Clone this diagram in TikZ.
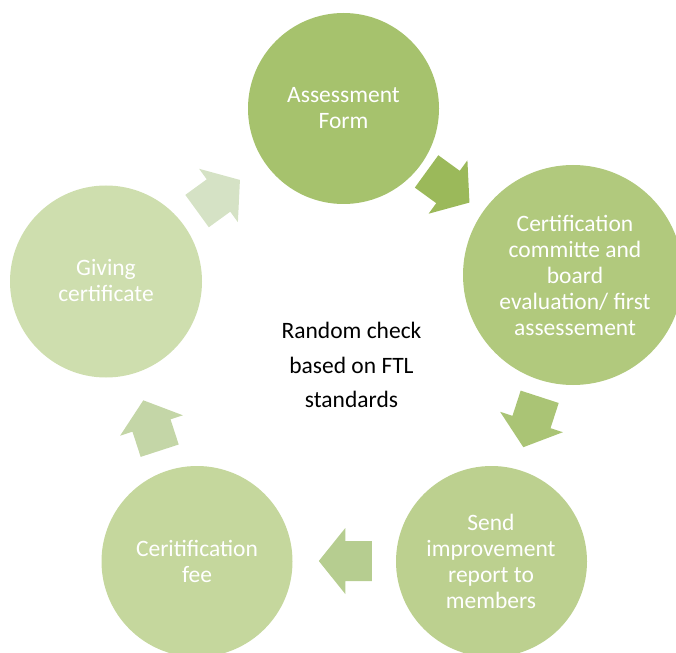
\documentclass[tikz,border=0pt]{standalone}
\usepackage{fontspec}
\setmainfont{Carlito}
\definecolor{cTop}{RGB}{166,194,109}
\definecolor{cRight}{RGB}{177,201,125}
\definecolor{cBR}{RGB}{188,208,143}
\definecolor{cBL}{RGB}{197,215,157}
\definecolor{cLeft}{RGB}{206,222,174}
\definecolor{aOne}{RGB}{155,185,90}
\definecolor{aTwo}{RGB}{170,196,117}
\definecolor{aThree}{RGB}{182,205,144}
\definecolor{aFour}{RGB}{196,214,167}
\definecolor{aFive}{RGB}{213,226,197}
\begin{document}
\begin{tikzpicture}[x=1pt,y=-1pt,
  circ/.style={circle, minimum size=#1, inner sep=0pt},
  lbl/.style={text=white, align=center, inner sep=0pt, font=\fontsize{23.5}{26}\selectfont},
  ctr/.style={text=black, align=center, inner sep=0pt, font=\fontsize{23.5}{34.5}\selectfont},
  ]
\useasboundingbox (0,0) rectangle (676,652);
\clip (0,0) rectangle (676,652);
% circles
\node[circ=191pt, fill=cTop]   (top)   at (343.5,108.5) {};
\node[circ=220pt, fill=cRight] (right) at (573,275) {};
\node[circ=191pt, fill=cBR]    (br)    at (491.5,561.5) {};
\node[circ=191pt, fill=cBL]    (bl)    at (197,561.5) {};
\node[circ=192pt, fill=cLeft]  (left)  at (106,281.5) {};
% labels
\node[lbl] (topT)   at (343.5,108.5) {Assessment\\Form};
\node[lbl] (rightT) at (575,275) {Certification\\committe and\\board\\evaluation/ first\\assessement};
\node[lbl] (brT)    at (491,561) {Send\\improvement\\report to\\members};
\node[lbl] (blT)    at (197,561) {Ceritification\\fee};
\node[lbl] (leftT)  at (106,281) {Giving\\certificate};
\node[ctr] (center) at (351.5,365) {Random check\\based on FTL\\standards};
% block arrows
\tikzset{blk/.style={fill=#1}}
\newcommand\blockarrow[4]{%
  \fill[blk=#4, shift={(#1,#2)}, rotate=#3]
    (-26.5,-20) -- (0,-20) -- (0,-33) -- (26.5,0) -- (0,33) -- (0,20) -- (-26.5,20) -- cycle;}
\blockarrow{448}{187}{-36}{aOne}
\blockarrow{531.5}{422}{-108}{aTwo}
\blockarrow{345.3}{561}{180}{aThree}
\blockarrow{151.5}{425.5}{108}{aFour}
\blockarrow{218.5}{195.5}{36}{aFive}
\end{tikzpicture}
\end{document}
